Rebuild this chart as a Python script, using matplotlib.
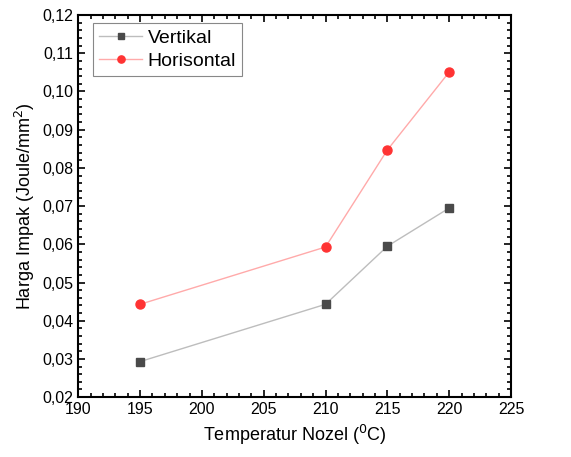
import matplotlib
matplotlib.use("Agg")
import matplotlib.pyplot as plt
from matplotlib.ticker import MultipleLocator, FuncFormatter

plt.rcParams['font.family'] = ['Liberation Sans', 'DejaVu Sans']

suhu = [195, 210, 215, 220]
vertikal = [0.0293, 0.0443, 0.0595, 0.0695]
horisontal = [0.0443, 0.0593, 0.0847, 0.1051]

fig = plt.figure(figsize=(5.71, 4.57), dpi=100)
ax = fig.add_axes([0.137, 0.131, 0.758, 0.836])

ax.plot(suhu, vertikal, color='#bdbdbd', lw=1, marker='s', ms=6,
        mfc='#4a4a4a', mec='#4a4a4a', label='Vertikal')
ax.plot(suhu, horisontal, color='#ffaaaa', lw=1, marker='o', ms=6.5,
        mfc='#ff3333', mec='#ff3333', label='Horisontal')

ax.set_xlim(190, 225)
ax.set_ylim(0.02, 0.12)
ax.xaxis.set_major_locator(MultipleLocator(5))
ax.xaxis.set_minor_locator(MultipleLocator(1))
ax.yaxis.set_major_locator(MultipleLocator(0.01))
ax.yaxis.set_minor_locator(MultipleLocator(0.002))
ax.yaxis.set_major_formatter(FuncFormatter(lambda v, p: ('%.2f' % v).replace('.', ',')))

ax.tick_params(which='both', direction='in', top=True, right=True, width=1.2)
ax.tick_params(which='major', length=5, labelsize=11.5)
ax.tick_params(which='minor', length=3)
for s in ax.spines.values():
    s.set_linewidth(1.5)

ax.set_xlabel('Temperatur Nozel ($^0$C)', fontsize=13)
ax.set_ylabel('Harga Impak (Joule/mm$^2$)', fontsize=13)

leg = ax.legend(loc='upper left', bbox_to_anchor=(0.035, 0.979), fontsize=14,
                fancybox=False, framealpha=1, edgecolor='#888888',
                borderaxespad=0, handlelength=2.2, markerscale=0.8,
                borderpad=0.3, labelspacing=0.3, handletextpad=0.3)
leg.get_frame().set_linewidth(0.8)

fig.savefig('out.png', dpi=100)
